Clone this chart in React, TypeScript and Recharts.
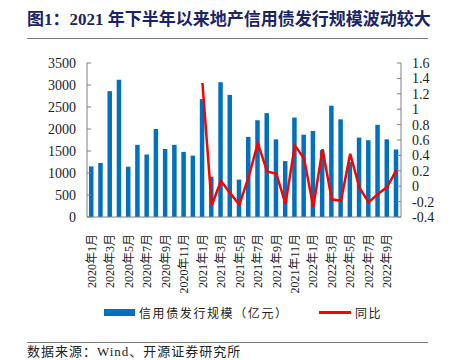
import React from 'react';
import { ComposedChart, Bar, Line, XAxis, YAxis } from 'recharts';

const months: string[] = [
  '2020年1月', '2020年2月', '2020年3月', '2020年4月', '2020年5月', '2020年6月',
  '2020年7月', '2020年8月', '2020年9月', '2020年10月', '2020年11月', '2020年12月',
  '2021年1月', '2021年2月', '2021年3月', '2021年4月', '2021年5月', '2021年6月',
  '2021年7月', '2021年8月', '2021年9月', '2021年10月', '2021年11月', '2021年12月',
  '2022年1月', '2022年2月', '2022年3月', '2022年4月', '2022年5月', '2022年6月',
  '2022年7月', '2022年8月', '2022年9月', '2022年10月',
];

// 信用债发行规模（亿元）
const issuance: number[] = [
  1150, 1230, 2860, 3120, 1140, 1640, 1420, 2000, 1545, 1640, 1480, 1395,
  2680, 915, 3065, 2775, 850, 1820, 2200, 2360, 1765, 1270, 2260, 1870,
  1955, 1520, 2530, 2220, 1250, 1805, 1745, 2095, 1765, 1535,
];

// 同比 (starts 2021年1月)
const yoy: (number | null)[] = [
  null, null, null, null, null, null, null, null, null, null, null, null,
  1.34, -0.25, 0.07, -0.09, -0.24, 0.12, 0.56, 0.19, 0.16, -0.23, 0.53, 0.36,
  -0.27, 0.48, -0.17, -0.19, 0.42, -0.02, -0.21, -0.1, -0.01, 0.21,
];

const leftTicks = [0, 500, 1000, 1500, 2000, 2500, 3000, 3500];
const rightTicks = [-0.4, -0.2, 0, 0.2, 0.4, 0.6, 0.8, 1, 1.2, 1.4, 1.6];

const data = months.map((m, i) => ({ month: m, issuance: issuance[i], yoy: yoy[i] }));

const SERIF = '"Liberation Serif", "Times New Roman", "Noto Sans CJK SC", serif';
const AXIS = '#808080';

const MonthTick = (props: any) => {
  const { x, y, payload } = props;
  return (
    <text
      x={x}
      y={y + 9}
      transform={`rotate(-90, ${x}, ${y + 9})`}
      textAnchor="end"
      dy="0.35em"
      fontSize={12}
      fontFamily={SERIF}
      fill="#222"
    >
      {payload.value}
    </text>
  );
};

const fmtRight = (v: number) => String(Math.round(v * 10) / 10);

export default function App() {
  return (
    <div style={{ position: 'absolute', left: 0, top: 0, width: 455, height: 360, background: '#fff', fontFamily: SERIF }}>
      <div
        style={{
          position: 'absolute', left: 27, top: 5, fontSize: 17, fontWeight: 700, color: '#1a2466',
          fontFamily: '"Liberation Serif", "Noto Sans CJK SC", serif', whiteSpace: 'nowrap',
        }}
      >
        图1：2021 年下半年以来地产信用债发行规模波动较大
      </div>
      <div style={{ position: 'absolute', left: 27, top: 38, width: 401, height: 1, background: '#7a7a7a' }} />

      <div style={{ position: 'absolute', left: 0, top: 0 }}>
        <ComposedChart width={455} height={300} data={data} margin={{ top: 63, right: 0, left: 0, bottom: 0 }}>
          <XAxis
            dataKey="month"
            interval={1}
            height={83}
            tick={<MonthTick />}
            tickLine={false}
            axisLine={{ stroke: AXIS }}
          />
          <YAxis
            yAxisId="left"
            width={87}
            domain={[0, 3500]}
            ticks={leftTicks}
            interval={0}
            tick={{ fill: '#222', fontSize: 14, fontFamily: SERIF }}
            tickSize={-4}
            tickMargin={15}
            tickLine={{ stroke: AXIS }}
            axisLine={{ stroke: AXIS }}
          />
          <YAxis
            yAxisId="right"
            orientation="right"
            width={54}
            domain={[-0.4, 1.6]}
            ticks={rightTicks}
            interval={0}
            tickFormatter={fmtRight}
            tick={{ fill: '#222', fontSize: 14, fontFamily: SERIF }}
            tickSize={-4}
            tickMargin={15}
            tickLine={{ stroke: AXIS }}
            axisLine={{ stroke: AXIS }}
          />
          <Bar yAxisId="left" dataKey="issuance" fill="#0070C0" barSize={4.5} isAnimationActive={false} />
          <Line
            yAxisId="right"
            dataKey="yoy"
            stroke="#FF0000"
            strokeWidth={2.5}
            dot={false}
            type="linear"
            isAnimationActive={false}
          />
        </ComposedChart>
      </div>

      <div style={{ position: 'absolute', left: 104, top: 309, width: 31, height: 7, background: '#0070C0' }} />
      <div style={{ position: 'absolute', left: 139, top: 304, fontSize: 12, letterSpacing: 1.6, color: '#222', fontFamily: '"Noto Sans CJK SC", sans-serif', whiteSpace: 'nowrap' }}>
        信用债发行规模（亿元）
      </div>
      <div style={{ position: 'absolute', left: 319, top: 311, width: 32, height: 2.5, background: '#FF0000' }} />
      <div style={{ position: 'absolute', left: 355, top: 304, fontSize: 12, letterSpacing: 1.6, color: '#222', fontFamily: '"Noto Sans CJK SC", sans-serif', whiteSpace: 'nowrap' }}>
        同比
      </div>

      <div style={{ position: 'absolute', left: 27, top: 342, width: 401, height: 1, background: '#7a7a7a' }} />
      <div style={{ position: 'absolute', left: 27, top: 345, fontSize: 13, lineHeight: '14px', letterSpacing: 1, color: '#222', fontFamily: SERIF, whiteSpace: 'nowrap' }}>
        数据来源：Wind、开源证券研究所
      </div>
    </div>
  );
}
